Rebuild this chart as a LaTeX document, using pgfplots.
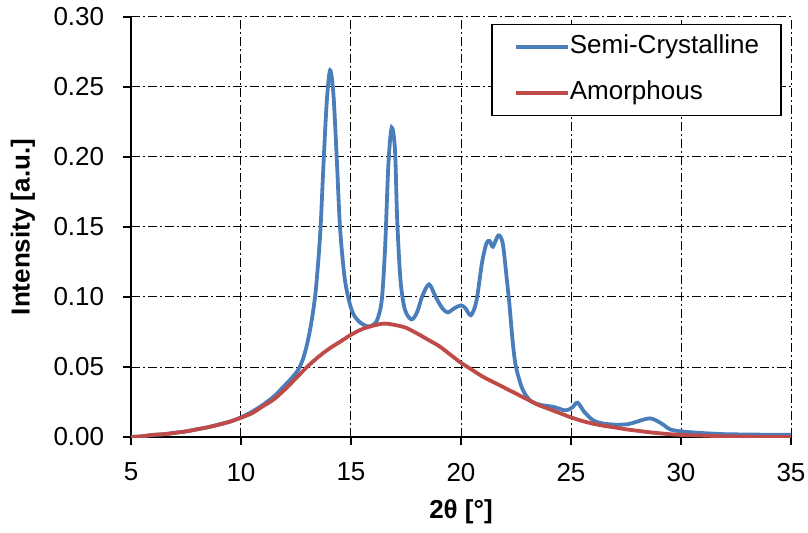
\documentclass[border=0pt]{standalone}
\usepackage{fontspec}
\setmainfont{Liberation Sans}
\usepackage{pgfplots}
\pgfplotsset{compat=1.18}

\definecolor{semiblue}{HTML}{4A7EBB}
\definecolor{amored}{HTML}{BE4B48}

% XRD patterns: intensity vs. 2theta
\pgfplotstableread{
tt     I
5.0    0.000
5.5    0.0005
6.0    0.0015
6.5    0.002
7.0    0.003
7.5    0.004
8.0    0.0055
8.5    0.007
9.0    0.009
9.5    0.011
10.0   0.014
10.5   0.018
11.0   0.023
11.5   0.029
12.0   0.037
12.3   0.042
12.6   0.048
12.8   0.055
13.0   0.066
13.2   0.082
13.4   0.105
13.6   0.145
13.75  0.195
13.9   0.240
14.05  0.262
14.2   0.245
14.35  0.200
14.5   0.150
14.7   0.115
14.9   0.098
15.1   0.088
15.4   0.082
15.75  0.079
16.0   0.080
16.2   0.084
16.4   0.098
16.55  0.135
16.7   0.195
16.85  0.221
17.0   0.205
17.1   0.155
17.25  0.112
17.45  0.091
17.75  0.084
18.0   0.089
18.25  0.101
18.55  0.109
18.85  0.100
19.15  0.092
19.4   0.089
19.7   0.092
20.0   0.094
20.2   0.092
20.45  0.087
20.7   0.097
20.95  0.124
21.15  0.138
21.3   0.140
21.45  0.136
21.7   0.144
21.9   0.138
22.1   0.110
22.2   0.095
22.35  0.068
22.5   0.050
22.8   0.034
23.15  0.026
23.6   0.023
24.2   0.0215
24.75  0.019
25.05  0.021
25.3   0.0245
25.6   0.018
26.0   0.012
26.4   0.0098
27.0   0.0088
27.6   0.0092
28.0   0.011
28.6   0.0133
29.1   0.0098
29.5   0.0055
30.0   0.004
31.0   0.0028
32.0   0.002
33.0   0.0018
34.0   0.0016
35.0   0.0015
}\semicryst

\pgfplotstableread{
tt     I
5.0    0.000
5.5    0.0005
6.0    0.0015
6.5    0.002
7.0    0.003
7.5    0.004
8.0    0.0055
8.5    0.007
9.0    0.0088
9.5    0.011
10.0   0.0138
10.5   0.017
11.0   0.022
11.5   0.027
12.0   0.034
12.5   0.042
13.0   0.050
13.5   0.057
14.0   0.063
14.5   0.068
15.0   0.073
15.5   0.077
16.0   0.0795
16.5   0.081
17.0   0.080
17.5   0.078
18.0   0.074
18.5   0.0695
19.0   0.065
19.5   0.059
20.0   0.053
20.5   0.048
21.0   0.043
21.5   0.039
22.0   0.035
22.5   0.031
23.0   0.027
23.5   0.023
24.0   0.020
24.5   0.017
25.0   0.014
25.5   0.0115
26.0   0.0095
26.5   0.008
27.0   0.0068
27.5   0.0055
28.0   0.0045
28.5   0.0035
29.0   0.0027
29.5   0.002
30.0   0.0015
31.0   0.001
32.0   0.0005
33.0   0.0003
34.0   0.0001
35.0   0.000
}\amorph

\begin{document}
\fontsize{26bp}{31bp}\selectfont
\begin{tikzpicture}
\path[use as bounding box] (-131bp,-96bp) rectangle (677bp,437bp);
\begin{axis}[
  scale only axis,
  width=660bp, height=420bp,
  xmin=5, xmax=35, ymin=0, ymax=0.30,
  xtick={5,10,15,20,25,30,35},
  ytick={0,0.05,0.1,0.15,0.2,0.25,0.3},
  axis x line*=bottom, axis y line*=left,
  axis line style={-, black, line width=1.3bp},
  tick align=outside,
  major tick length=8bp,
  tick style={black, line width=1.3bp},
  grid=major,
  major grid style={black, line width=1bp, dash pattern=on 9bp off 3bp on 2bp off 3bp},
  /pgf/number format/assume math mode=true,
  yticklabel style={xshift=-10bp,
    /pgf/number format/fixed,
    /pgf/number format/fixed zerofill,
    /pgf/number format/precision=2},
  xticklabel style={yshift=-9bp},
  xlabel={\textbf{2θ [°]}},
  ylabel={\textbf{Intensity [a.u.]}},
  xlabel style={at={(axis description cs:0.5,-0.1786)}, anchor=center},
  ylabel style={at={(axis description cs:-0.1636,0.5)}, anchor=center},
  legend cell align=left,
  legend image code/.code={\draw[#1, line width=3.8bp] (0bp,0bp) -- (52bp,0bp);},
  legend style={
    at={(axis description cs:0.986,0.983)}, anchor=north east,
    draw=black, line width=1.3bp, fill=white,
    inner xsep=22bp, inner ysep=10bp,
    row sep=21bp,
    nodes={inner sep=0bp, text height=19bp, text depth=6bp},
    /tikz/every even column/.append style={column sep=7bp},
  },
]
\addplot[semiblue, line width=3.8bp, smooth, tension=0.5] table[x=tt, y=I] {\semicryst};
\addlegendentry{Semi-Crystalline}
\addplot[amored, line width=3.8bp, smooth] table[x=tt, y=I] {\amorph};
\addlegendentry{Amorphous}
\end{axis}
\end{tikzpicture}
\end{document}
